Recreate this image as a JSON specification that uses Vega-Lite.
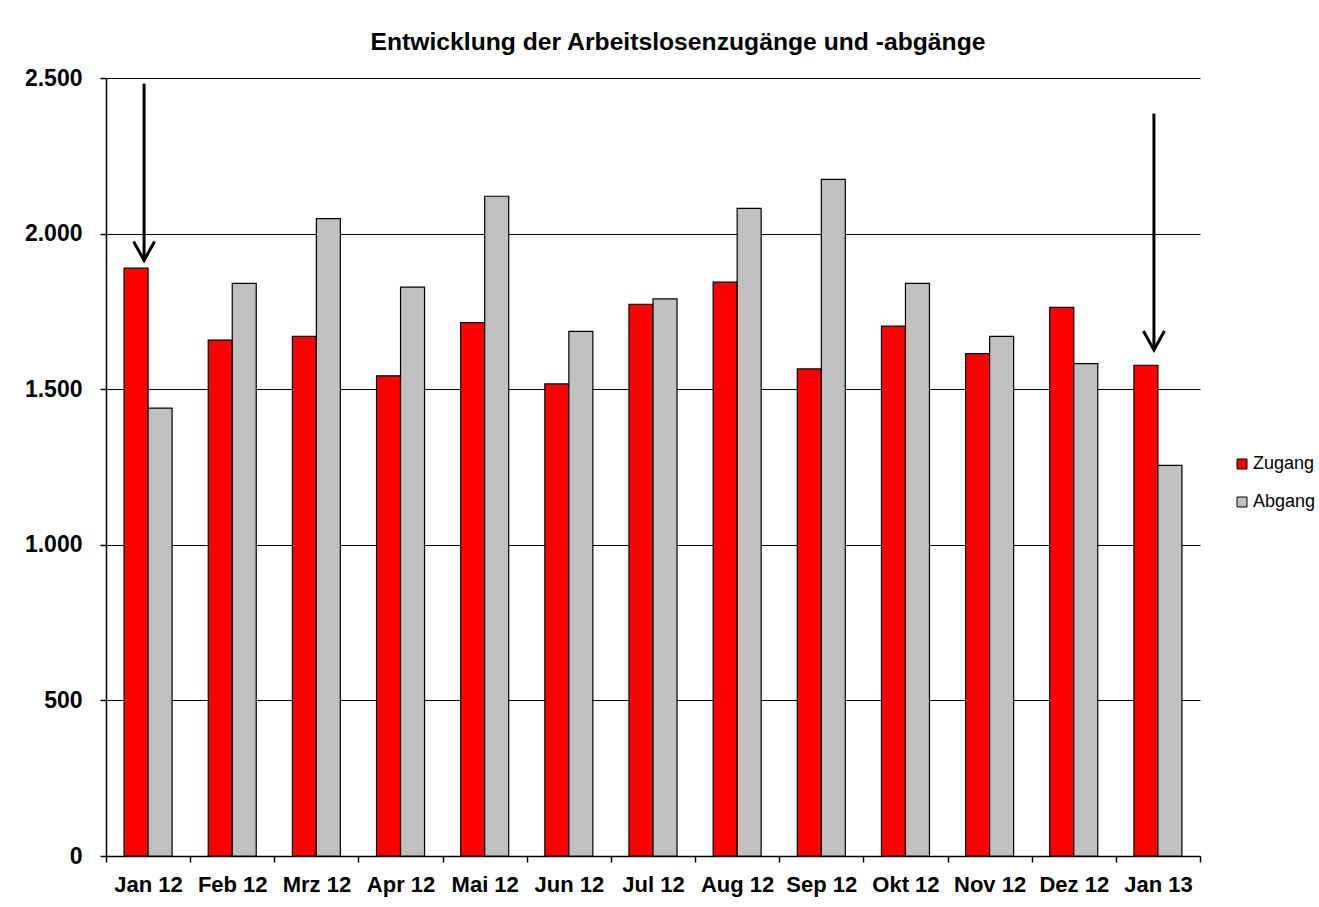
{
  "$schema": "https://vega.github.io/schema/vega-lite/v6.json",
  "width": 1094,
  "height": 778,
  "autosize": {"type": "none"},
  "padding": {"left": 106, "top": 78, "right": 119, "bottom": 51},
  "background": "white",
  "title": {
    "text": "Entwicklung der Arbeitslosenzugänge und -abgänge",
    "font": "Liberation Sans",
    "fontSize": 24.7,
    "fontWeight": "bold",
    "color": "black",
    "anchor": "middle",
    "offset": 12,
    "dx": 25
  },
  "config": {
    "view": {"stroke": null},
    "font": "Liberation Sans"
  },
  "datasets": {
    "bars": [
      {"month": "Jan 12", "series": "Zugang", "value": 1889},
      {"month": "Jan 12", "series": "Abgang", "value": 1439},
      {"month": "Feb 12", "series": "Zugang", "value": 1658},
      {"month": "Feb 12", "series": "Abgang", "value": 1840},
      {"month": "Mrz 12", "series": "Zugang", "value": 1670},
      {"month": "Mrz 12", "series": "Abgang", "value": 2048},
      {"month": "Apr 12", "series": "Zugang", "value": 1543},
      {"month": "Apr 12", "series": "Abgang", "value": 1828},
      {"month": "Mai 12", "series": "Zugang", "value": 1714},
      {"month": "Mai 12", "series": "Abgang", "value": 2120},
      {"month": "Jun 12", "series": "Zugang", "value": 1517},
      {"month": "Jun 12", "series": "Abgang", "value": 1686},
      {"month": "Jul 12", "series": "Zugang", "value": 1773},
      {"month": "Jul 12", "series": "Abgang", "value": 1790},
      {"month": "Aug 12", "series": "Zugang", "value": 1844},
      {"month": "Aug 12", "series": "Abgang", "value": 2081},
      {"month": "Sep 12", "series": "Zugang", "value": 1565},
      {"month": "Sep 12", "series": "Abgang", "value": 2174},
      {"month": "Okt 12", "series": "Zugang", "value": 1703},
      {"month": "Okt 12", "series": "Abgang", "value": 1840},
      {"month": "Nov 12", "series": "Zugang", "value": 1614},
      {"month": "Nov 12", "series": "Abgang", "value": 1670},
      {"month": "Dez 12", "series": "Zugang", "value": 1763},
      {"month": "Dez 12", "series": "Abgang", "value": 1582},
      {"month": "Jan 13", "series": "Zugang", "value": 1577},
      {"month": "Jan 13", "series": "Abgang", "value": 1255}
    ],
    "arrows": [
      {"month": "Jan 12", "top": 2482, "tip": 1914},
      {"month": "Jan 13", "top": 2386, "tip": 1626}
    ]
  },
  "layer": [
    {
      "data": {"name": "bars"},
      "mark": {"type": "bar", "stroke": "black", "strokeWidth": 1.2},
      "encoding": {
        "x": {
          "field": "month",
          "type": "nominal",
          "sort": null,
          "scale": {
            "domain": ["Jan 12", "Feb 12", "Mrz 12", "Apr 12", "Mai 12", "Jun 12", "Jul 12", "Aug 12", "Sep 12", "Okt 12", "Nov 12", "Dez 12", "Jan 13"],
            "paddingInner": 0,
            "paddingOuter": 0
          },
          "axis": {
            "title": null,
            "labelAngle": 0,
            "labelFont": "Liberation Sans",
            "labelFontSize": 22,
            "labelFontWeight": "bold",
            "labelColor": "black",
            "labelPadding": 12,
            "tickBand": "extent",
            "tickSize": 6,
            "tickColor": "black",
            "domainColor": "black",
            "domainWidth": 1.5,
            "tickWidth": 1.5,
            "grid": false
          }
        },
        "xOffset": {
          "field": "series",
          "sort": ["Zugang", "Abgang"],
          "scale": {"paddingInner": 0, "paddingOuter": 0.753}
        },
        "y": {
          "field": "value",
          "type": "quantitative",
          "scale": {"domain": [0, 2500], "nice": false},
          "axis": {
            "title": null,
            "values": [0, 500, 1000, 1500, 2000, 2500],
            "labelExpr": "replace(format(datum.value, ','), ',', '.')",
            "labelFont": "Liberation Sans",
            "labelFontSize": 23,
            "labelFontWeight": "bold",
            "labelColor": "black",
            "labelPadding": 18,
            "tickSize": 6,
            "tickColor": "black",
            "tickWidth": 1.5,
            "domainColor": "black",
            "domainWidth": 1.5,
            "grid": true,
            "gridColor": "black",
            "gridWidth": 1,
            "gridOpacity": 1
          }
        },
        "color": {
          "field": "series",
          "type": "nominal",
          "scale": {"domain": ["Zugang", "Abgang"], "range": ["#FF0000", "#C0C0C0"]},
          "legend": {
            "title": null,
            "orient": "none",
            "legendX": 1127,
            "legendY": 377,
            "padding": 0,
            "symbolType": "square",
            "symbolSize": 100,
            "symbolStrokeColor": "black",
            "symbolStrokeWidth": 1,
            "symbolOpacity": 1,
            "labelFont": "Liberation Sans",
            "labelFontSize": 18,
            "labelColor": "black",
            "labelOffset": 2,
            "labelLimit": 100,
            "rowPadding": 20
          }
        }
      }
    },
    {
      "data": {"name": "arrows"},
      "mark": {"type": "rule", "strokeWidth": 3, "color": "black", "xOffset": -4},
      "encoding": {
        "x": {"field": "month", "type": "nominal", "sort": null},
        "y": {"field": "top", "type": "quantitative"},
        "y2": {"field": "tip"}
      }
    },
    {
      "data": {"name": "arrows"},
      "mark": {
        "type": "point",
        "shape": "M-1,-1.8L0,0L1,-1.8",
        "size": 441,
        "filled": false,
        "stroke": "black",
        "strokeWidth": 3,
        "opacity": 1,
        "xOffset": -4
      },
      "encoding": {
        "x": {"field": "month", "type": "nominal", "sort": null},
        "y": {"field": "tip", "type": "quantitative"}
      }
    }
  ]
}
